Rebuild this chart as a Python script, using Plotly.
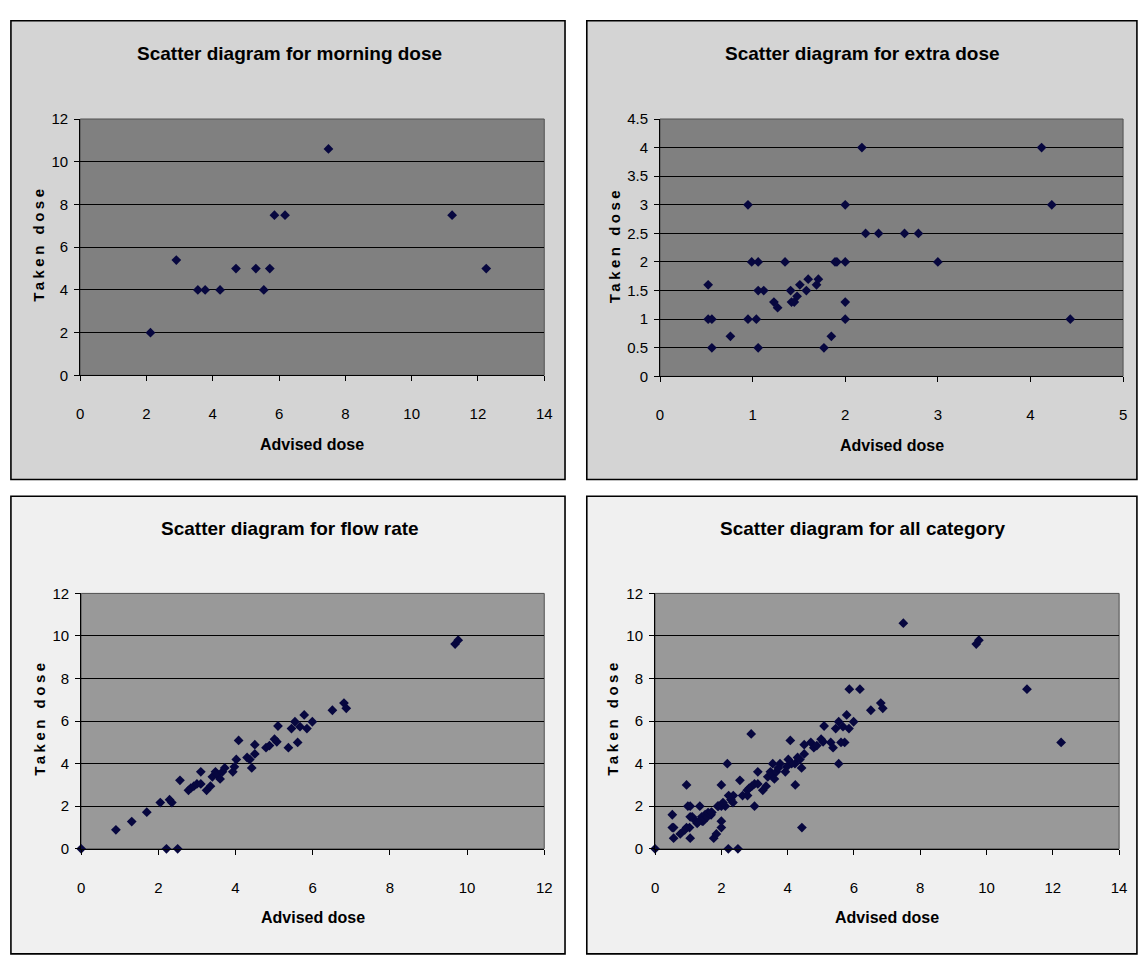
import plotly.graph_objects as go

W, H = 1138, 956

# ---------------- data ----------------
morning_x = [2.12, 2.9, 3.55, 3.77, 4.22, 4.7, 5.3, 5.54, 5.72, 5.86, 6.18, 7.49, 11.22, 12.25]
morning_y = [2.0, 5.4, 4.0, 4.0, 4.0, 5.0, 5.0, 4.0, 5.0, 7.5, 7.5, 10.6, 7.5, 5.0]

extra_x = [0.52, 0.52, 0.56, 0.56, 0.76, 0.95, 0.95, 0.99, 1.06, 1.04, 1.06, 1.06, 1.12,
           1.23, 1.27, 1.35, 1.41, 1.42, 1.45, 1.48, 1.51, 1.58, 1.60, 1.69, 1.71, 1.77,
           1.85, 1.89, 1.91, 2.0, 2.0, 2.0, 2.0, 2.18, 2.22, 2.36, 2.64, 2.79, 3.0,
           4.12, 4.23, 4.43]
extra_y = [1.6, 1.0, 1.0, 0.5, 0.7, 3.0, 1.0, 2.0, 2.0, 1.0, 0.5, 1.5, 1.5,
           1.3, 1.2, 2.0, 1.5, 1.3, 1.3, 1.4, 1.6, 1.5, 1.7, 1.6, 1.7, 0.5,
           0.7, 2.0, 2.0, 3.0, 2.0, 1.3, 1.0, 4.0, 2.5, 2.5, 2.5, 2.5, 2.0,
           4.0, 3.0, 1.0]

flow_x = [0.0, 0.9, 1.31, 1.7, 2.05, 2.21, 2.29, 2.35, 2.5, 2.56, 2.78, 2.84, 2.92, 3.0,
          3.1, 3.1, 3.25, 3.35, 3.4, 3.48, 3.53, 3.6, 3.66, 3.72, 3.93, 3.97, 4.02, 4.08,
          4.3, 4.37, 4.42, 4.5, 4.5, 4.79, 4.88, 5.01, 5.07, 5.1, 5.37, 5.45, 5.54, 5.61,
          5.67, 5.78, 5.85, 5.99, 6.51, 6.81, 6.87, 9.69, 9.77]
flow_y = [0.0, 0.89, 1.28, 1.72, 2.17, 0.0, 2.31, 2.17, 0.0, 3.22, 2.75, 2.85, 2.94, 3.05,
          3.62, 3.05, 2.75, 2.94, 3.38, 3.62, 3.49, 3.28, 3.62, 3.8, 3.62, 3.85, 4.2, 5.09,
          4.29, 4.2, 3.8, 4.46, 4.89, 4.75, 4.85, 5.15, 5.03, 5.77, 4.75, 5.65, 5.97, 5.0,
          5.74, 6.29, 5.65, 5.97, 6.51, 6.85, 6.6, 9.62, 9.8]

all_x = morning_x + extra_x + flow_x
all_y = morning_y + extra_y + flow_y

titles = ["Scatter diagram for morning dose", "Scatter diagram for extra dose",
          "Scatter diagram for flow rate", "Scatter diagram for all category"]
x_title = "Advised dose"
y_title = "Taken dose"

# ---------------- layout helpers (pixels -> paper) ----------------
def px(x):
    return x / W

def py(y):
    return 1 - y / H

NARROW = "Liberation Sans Narrow, Arial Narrow, Liberation Sans, Arial, sans-serif"
REG = "Liberation Sans, Arial, sans-serif"
MARK = "#07073f"

panels = [
    # frame(x0,y0,x1,y1), plot(x0,y0,x1,y1), panel bg, plot bg, xrange, xdtick, yrange, ydtick
    dict(frame=(7, 12, 567, 479), plot=(77, 112, 546, 373), bg="#d4d4d4", pbg="#808080",
         xr=[0, 14], xd=2, yr=[0, 12], yd=2, data=(morning_x, morning_y), ytx=35),
    dict(frame=(589, 12, 1145, 479), plot=(663, 112, 1131, 374), bg="#d4d4d4", pbg="#808080",
         xr=[0, 5], xd=1, yr=[0, 4.5], yd=0.5, data=(extra_x, extra_y), ytx=617),
    dict(frame=(7, 496, 567, 962), plot=(78, 595, 546, 855), bg="#f0f0f0", pbg="#999999",
         xr=[0, 12], xd=2, yr=[0, 12], yd=2, data=(flow_x, flow_y), ytx=36),
    dict(frame=(589, 496, 1145, 962), plot=(658, 595, 1127, 855), bg="#f0f0f0", pbg="#999999",
         xr=[0, 14], xd=2, yr=[0, 12], yd=2, data=(all_x, all_y), ytx=615),
]

fig = go.Figure()
shapes = []
annotations = []

for i, p in enumerate(panels, start=1):
    fx0, fy0, fx1, fy1 = p["frame"]
    ax0, ay0, ax1, ay1 = p["plot"]
    # panel background and frame
    shapes.append(dict(type="rect", xref="paper", yref="paper", layer="below",
                       x0=px(fx0), x1=px(fx1), y0=py(fy1), y1=py(fy0),
                       fillcolor=p["bg"], line=dict(color="#000000", width=1.6)))
    # plot area background
    shapes.append(dict(type="rect", xref="paper", yref="paper", layer="below",
                       x0=px(ax0), x1=px(ax1), y0=py(ay1), y1=py(ay0),
                       fillcolor=p["pbg"], line=dict(color="#505050", width=1)))

    xa = "x" if i == 1 else f"x{i}"
    ya = "y" if i == 1 else f"y{i}"
    xs, ys = p["data"]
    fig.add_trace(go.Scatter(x=xs, y=ys, mode="markers", xaxis=xa, yaxis=ya,
                             marker=dict(symbol="diamond", size=7.5, color=MARK,
                                         line=dict(width=0)),
                             cliponaxis=False, showlegend=False, hoverinfo="x+y"))

    axis_common = dict(showline=True, linecolor="#000000", linewidth=1,
                       ticks="outside", ticklen=5, tickcolor="#000000", tickwidth=1,
                       zeroline=False, tickfont=dict(family=NARROW, size=15, color="#000000"))
    fig.layout[f"xaxis{'' if i == 1 else i}"] = dict(
        domain=[px(ax0), px(ax1)], range=p["xr"], dtick=p["xd"], tick0=0,
        showgrid=False, anchor=ya, ticklabelstandoff=20, **axis_common)
    fig.layout[f"yaxis{'' if i == 1 else i}"] = dict(
        domain=[py(ay1), py(ay0)], range=p["yr"], dtick=p["yd"], tick0=0,
        showgrid=True, gridcolor="#000000", gridwidth=1, anchor=xa,
        ticklabelstandoff=3, **axis_common)

    # chart title
    cx = (fx0 + min(fx1, W)) / 2 if i in (1, 3) else 868
    ty = fy0 + 33
    annotations.append(dict(text=f"<b>{titles[i-1]}</b>", xref="paper", yref="paper",
                            x=px((ax0 + ax1) / 2 - 23 if i in (1, 3) else 868),
                            y=py(ty), xanchor="center", yanchor="middle", showarrow=False,
                            font=dict(family=NARROW, size=19, color="#000000")))
    # x axis title
    annotations.append(dict(text=f"<b>{x_title}</b>", xref="paper", yref="paper",
                            x=px((ax0 + ax1) / 2), y=py(ay1 + 70), xanchor="center",
                            yanchor="middle", showarrow=False,
                            font=dict(family=NARROW, size=16, color="#000000")))
    # y axis title (letter-spaced, rotated)
    annotations.append(dict(text=f"<b><span style='letter-spacing:3.5px'>{y_title}</span></b>",
                            xref="paper", yref="paper", textangle=-90,
                            x=px(p["ytx"]), y=py((ay0 + ay1) / 2 - 3), xanchor="center",
                            yanchor="middle", showarrow=False,
                            font=dict(family=REG, size=15, color="#000000")))

fig.update_layout(width=W, height=H, margin=dict(l=0, r=0, t=0, b=0, pad=0),
                  paper_bgcolor="#ffffff", plot_bgcolor="rgba(0,0,0,0)",
                  shapes=shapes, annotations=annotations, showlegend=False)

fig.write_html("out.html")
